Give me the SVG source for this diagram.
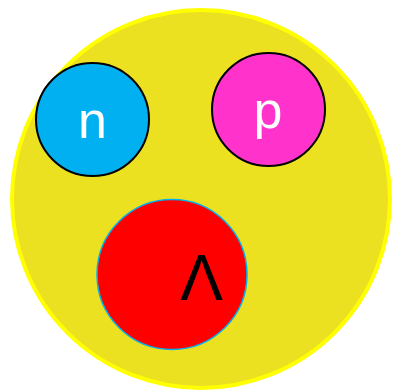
<svg xmlns="http://www.w3.org/2000/svg" width="393" height="390" viewBox="0 0 393 390">
<style>
.lbl{font-family:"Liberation Sans",Arial,sans-serif;text-anchor:middle}
.w{fill:#ffffff;font-size:52px}
.small{stroke:#000000;stroke-width:2}
</style>
<rect width="393" height="390" fill="#ffffff"/>
<g id="nucleus">
<circle cx="201" cy="199" r="189" fill="#ebe120" stroke="#ffff00" stroke-width="4"/>
</g>
<g id="connectors"></g>
<g id="neutron">
<circle class="small" cx="92.5" cy="119.5" r="56.5" fill="#00b0f0"/>
<text class="lbl w" x="92.5" y="138">n</text>
</g>
<g id="proton">
<circle class="small" cx="268.5" cy="109.5" r="56.5" fill="#ff33cc"/>
<text class="lbl w" x="268" y="128">p</text>
</g>
<g id="lambda">
<circle cx="172" cy="274.5" r="75" fill="#ff0000" stroke="#00b0f0" stroke-width="1.5"/>
<text class="lbl" x="201.5" y="300" font-size="64" fill="#000000">Λ</text>
</g>
</svg>
